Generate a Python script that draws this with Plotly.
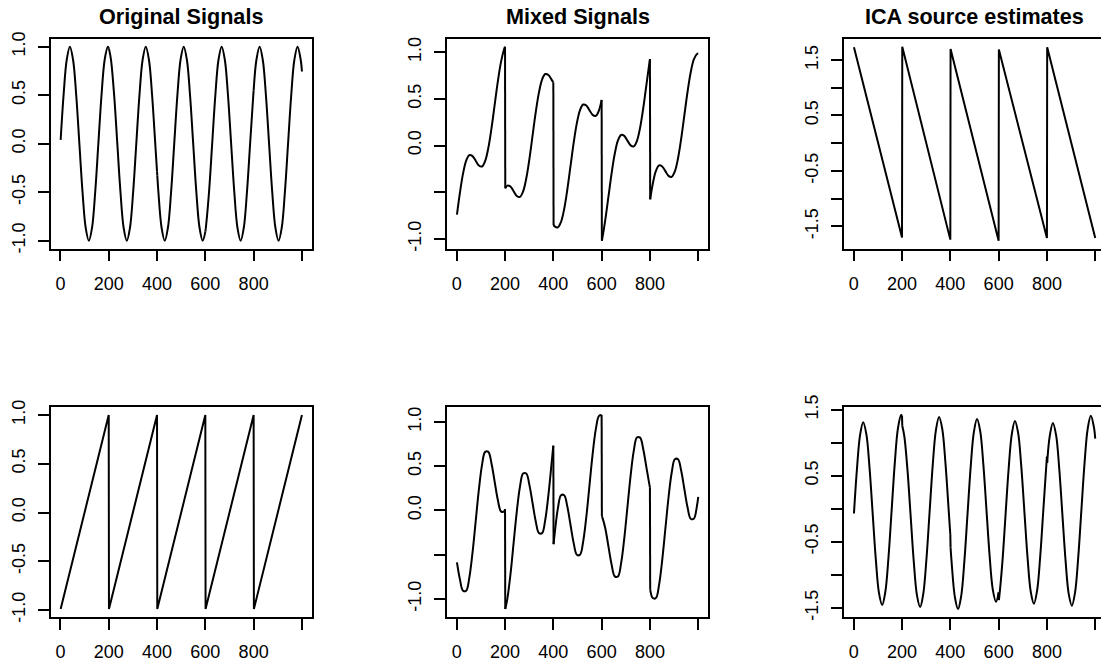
import plotly.graph_objects as go

# ---- sample positions (time index) ----
t = [1, 13.09, 26.18, 39.27, 52.36, 65.45, 78.54, 91.63, 104.72, 117.81, 130.90, 143.99, 157.08, 170.17, 183.26, 196.35, 200,
     201, 209.44, 222.53, 235.62, 248.71, 261.80, 274.89, 287.98, 301.07, 314.16, 327.25, 340.34, 353.43, 366.52, 379.61, 392.70, 400,
     401, 405.79, 418.88, 431.97, 445.06, 458.15, 471.24, 484.33, 497.42, 510.51, 523.60, 536.69, 549.78, 562.87, 575.96, 589.05, 600,
     601, 602.14, 615.23, 628.32, 641.41, 654.50, 667.59, 680.68, 693.77, 706.86, 719.95, 733.04, 746.13, 759.22, 772.31, 785.40, 798.49, 800,
     801, 811.58, 824.67, 837.76, 850.85, 863.94, 877.03, 890.12, 903.21, 916.30, 929.39, 942.48, 955.57, 968.66, 981.75, 994.84, 1000]

orig_sine = [0.040, 0.5, 0.866, 1, 0.866, 0.5, 0, -0.5, -0.866, -1, -0.866, -0.5, 0, 0.5, 0.866, 1, 0.989,
             0.981, 0.866, 0.5, 0, -0.5, -0.866, -1, -0.866, -0.5, 0, 0.5, 0.866, 1, 0.866, 0.5, 0, -0.288,
             -0.326, -0.5, -0.866, -1, -0.866, -0.5, 0, 0.5, 0.866, 1, 0.866, 0.5, 0, -0.5, -0.866, -1, -0.906,
             -0.889, -0.866, -0.5, 0, 0.5, 0.866, 1, 0.866, 0.5, 0, -0.5, -0.866, -1, -0.866, -0.5, 0, 0.5, 0.551,
             0.585, 0.866, 1, 0.866, 0.5, 0, -0.5, -0.866, -1, -0.866, -0.5, 0, 0.5, 0.866, 1, 0.866, 0.745]

mixed1 = [-0.740, -0.510, -0.301, -0.161, -0.102, -0.113, -0.163, -0.214, -0.224, -0.165, -0.025, 0.184, 0.434, 0.684, 0.893, 1.033, 1.057,
          -0.458, -0.429, -0.439, -0.489, -0.540, -0.550, -0.491, -0.351, -0.142, 0.108, 0.357, 0.566, 0.706, 0.765, 0.755, 0.705, 0.674,
          -0.850, -0.866, -0.876, -0.817, -0.677, -0.468, -0.219, 0.031, 0.240, 0.380, 0.439, 0.429, 0.378, 0.328, 0.318, 0.377, 0.488,
          -1.019, -1.004, -0.794, -0.545, -0.295, -0.086, 0.054, 0.113, 0.103, 0.052, 0.002, -0.009, 0.050, 0.190, 0.399, 0.649, 0.899, 0.925,
          -0.576, -0.412, -0.272, -0.213, -0.224, -0.274, -0.325, -0.335, -0.276, -0.136, 0.073, 0.323, 0.573, 0.782, 0.922, 0.980, 0.984]

mixed2 = [-0.586, -0.775, -0.906, -0.906, -0.756, -0.477, -0.123, 0.232, 0.512, 0.661, 0.661, 0.531, 0.325, 0.120, -0.010, -0.011, 0.016,
          -1.113, -1.001, -0.722, -0.367, -0.012, 0.267, 0.417, 0.417, 0.286, 0.081, -0.124, -0.255, -0.256, -0.106, 0.174, 0.528, 0.731,
          -0.381, -0.257, 0.023, 0.172, 0.172, 0.041, -0.164, -0.369, -0.500, -0.500, -0.350, -0.071, 0.284, 0.639, 0.918, 1.068, 1.077,
          -0.066, -0.073, -0.203, -0.409, -0.614, -0.744, -0.745, -0.595, -0.315, 0.039, 0.394, 0.673, 0.823, 0.822, 0.692, 0.487, 0.281, 0.261,
          -0.892, -0.989, -0.989, -0.840, -0.560, -0.206, 0.149, 0.429, 0.578, 0.578, 0.448, 0.242, 0.037, -0.093, -0.094, 0.055, 0.153]

ica2 = [-0.073, 0.584, 1.109, 1.308, 1.128, 0.621, -0.075, -0.771, -1.278, -1.458, -1.259, -0.734, -0.020, 0.694, 1.219, 1.417, 1.404,
        1.254, 1.098, 0.591, -0.105, -0.801, -1.308, -1.488, -1.289, -0.764, -0.050, 0.664, 1.189, 1.387, 1.208, 0.701, 0.005, -0.396,
        -0.589, -0.831, -1.338, -1.518, -1.319, -0.794, -0.080, 0.634, 1.159, 1.357, 1.178, 0.671, -0.025, -0.721, -1.228, -1.408, -1.267,
        -1.382, -1.350, -0.824, -0.110, 0.604, 1.129, 1.327, 1.147, 0.641, -0.055, -0.751, -1.258, -1.438, -1.240, -0.714, 0.000, 0.714, 0.787,
        0.696, 1.099, 1.297, 1.117, 0.611, -0.085, -0.781, -1.288, -1.468, -1.270, -0.744, -0.030, 0.684, 1.209, 1.407, 1.227, 1.060]

# sawtooth corner points
saw_t = [1, 200, 201, 400, 401, 600, 601, 800, 801, 1000]
orig_saw = [-0.99, 1.0, -0.99, 1.0, -0.99, 1.0, -0.99, 1.0, -0.99, 1.0]
ica1 = [1.73, -1.70, 1.74, -1.74, 1.70, -1.76, 1.69, -1.71, 1.73, -1.71]

titles = ["Original Signals", "Mixed Signals", "ICA source estimates"]
x_ticks = [0, 200, 400, 600, 800, 1000]
x_ticktext = ["0", "200", "400", "600", "800", ""]
y_ticks_unit = [-1.0, -0.5, 0.0, 0.5, 1.0]
y_text_orig = ["-1.0", "-0.5", "0.0", "0.5", "1.0"]
y_text_mixed = ["-1.0", "", "0.0", "0.5", "1.0"]
y_ticks_ica = [-1.5, -1.0, -0.5, 0.0, 0.5, 1.0, 1.5]
y_text_ica = ["-1.5", "", "-0.5", "", "0.5", "", "1.5"]

# ---- page geometry (pixels) ----
W, H = 1101, 663
col_left = [51.0, 447.3, 844.3]
box_w = 260.6
row_top = [39.0, 407.3]
box_h = 209.5
FONT = "Liberation Sans, Arial, Helvetica, sans-serif"
LW = 2.0
BOX_LW = 1.8

panels = [
    (0, 0, t, orig_sine, True, y_ticks_unit, y_text_orig),
    (0, 1, t, mixed1, True, y_ticks_unit, y_text_mixed),
    (0, 2, saw_t, ica1, False, y_ticks_ica, y_text_ica),
    (1, 0, saw_t, orig_saw, False, y_ticks_unit, y_text_orig),
    (1, 1, t, mixed2, True, y_ticks_unit, y_text_mixed),
    (1, 2, t, ica2, True, y_ticks_ica, y_text_ica),
]

fig = go.Figure()
layout = {}
breaks = (200, 400, 600, 800)

for (r, c, xs, ys, smooth, ytv, ytt) in panels:
    n = r * 3 + c + 1
    xa = "x" if n == 1 else f"x{n}"
    ya = "y" if n == 1 else f"y{n}"
    line = dict(color="black", width=LW)
    spl = dict(color="black", width=LW, shape="spline", smoothing=1)
    if smooth:
        start = 0
        for i in range(len(xs) - 1):
            if xs[i] in breaks and abs(xs[i + 1] - xs[i] - 1) < 1e-9:
                fig.add_trace(go.Scatter(x=xs[start:i + 1], y=ys[start:i + 1], mode="lines", line=spl,
                                         xaxis=xa, yaxis=ya, hoverinfo="skip"))
                fig.add_trace(go.Scatter(x=xs[i:i + 2], y=ys[i:i + 2], mode="lines", line=line,
                                         xaxis=xa, yaxis=ya, hoverinfo="skip"))
                start = i + 1
        fig.add_trace(go.Scatter(x=xs[start:], y=ys[start:], mode="lines", line=spl,
                                 xaxis=xa, yaxis=ya, hoverinfo="skip"))
    else:
        fig.add_trace(go.Scatter(x=xs, y=ys, mode="lines", line=line, xaxis=xa, yaxis=ya, hoverinfo="skip"))

    # R-style ranges: data range padded by 4%
    xlo, xhi = min(xs), max(xs)
    xpad = 0.04 * (xhi - xlo)
    x0, x1 = xlo - xpad, xhi + xpad
    ylo, yhi = min(ys), max(ys)
    ypad = 0.04 * (yhi - ylo)
    left_px = col_left[c]
    right_px = left_px + box_w
    if right_px > W:
        ppu = box_w / (x1 - x0)
        x1 = x0 + (W - left_px) / ppu
        right_px = W
    top_px = row_top[r]
    bot_px = top_px + box_h

    key_x = "xaxis" if n == 1 else f"xaxis{n}"
    key_y = "yaxis" if n == 1 else f"yaxis{n}"
    layout[key_x] = dict(domain=[left_px / W, right_px / W], anchor=ya, range=[x0, x1],
                         automargin=False,
                         showline=True, mirror=True, linecolor="black", linewidth=BOX_LW,
                         ticks="outside", ticklen=11, tickwidth=1.6, tickcolor="black",
                         tickvals=x_ticks, ticktext=x_ticktext, showgrid=False, zeroline=False,
                         ticklabelstandoff=7,
                         tickfont=dict(family=FONT, size=18, color="black"))
    layout[key_y] = dict(domain=[1 - bot_px / H, 1 - top_px / H], anchor=xa, range=[ylo - ypad, yhi + ypad],
                         automargin=False,
                         showline=True, mirror=(c != 2), linecolor="black", linewidth=BOX_LW,
                         ticks="outside", ticklen=11, tickwidth=1.6, tickcolor="black",
                         tickvals=ytv, ticktext=ytt, showgrid=False, zeroline=False,
                         tickangle=-90, ticklabelstandoff=6,
                         tickfont=dict(family=FONT, size=18, color="black"))

annotations = []
for c, title in enumerate(titles):
    cx = col_left[c] + box_w / 2
    annotations.append(dict(text=f"<b>{title}</b>", x=cx / W, y=1 - 16.5 / H, xref="paper", yref="paper",
                            xanchor="center", yanchor="middle", showarrow=False,
                            font=dict(family=FONT, size=21.6, color="black")))

fig.update_layout(width=W, height=H, margin=dict(l=0, r=0, t=0, b=0, pad=0, autoexpand=False),
                  paper_bgcolor="white", plot_bgcolor="white", showlegend=False,
                  annotations=annotations, **layout)

fig.write_html("out.html", config={"displayModeBar": False},
               post_script="document.body.style.margin='0px';")
